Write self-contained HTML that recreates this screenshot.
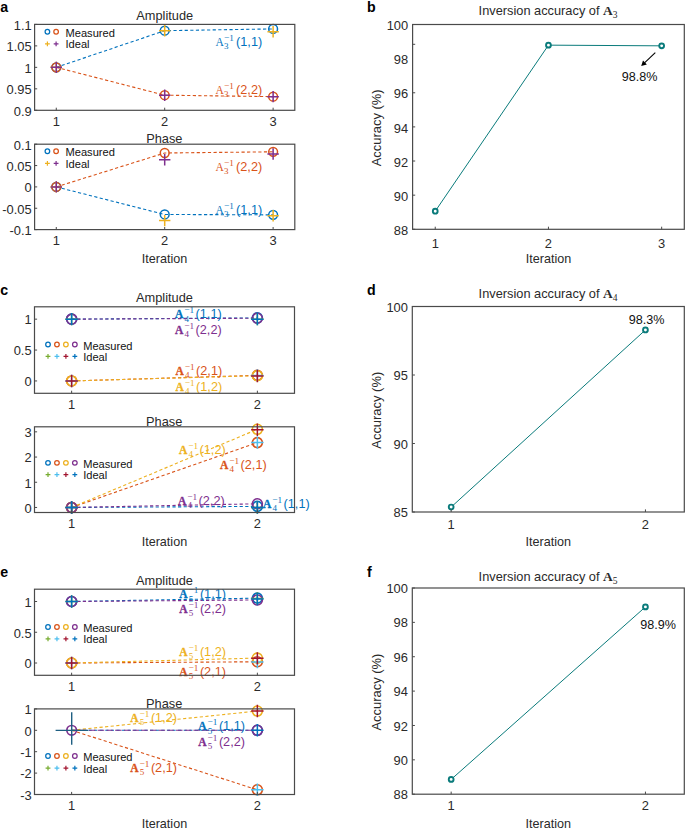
<!DOCTYPE html><html><head><meta charset="utf-8"><style>html,body{margin:0;padding:0;background:#fff;}svg{display:block;}</style></head><body>
<svg width="685" height="832" viewBox="0 0 685 832" font-family='"Liberation Sans", sans-serif'>
<rect width="685" height="832" fill="#fff"/>
<text x="0.20" y="12.30" text-anchor="start" font-size="14.2" fill="#000" font-weight="bold" font-family='"Liberation Sans", sans-serif' >a</text>
<text x="164.70" y="19.60" text-anchor="middle" font-size="12.8" fill="#2a2a2a" font-weight="normal" font-family='"Liberation Sans", sans-serif' >Amplitude</text>
<text x="31.70" y="115.60" text-anchor="end" font-size="12.9" fill="#2a2a2a">0.9</text>
<text x="31.70" y="94.13" text-anchor="end" font-size="12.9" fill="#2a2a2a">0.95</text>
<text x="31.70" y="72.65" text-anchor="end" font-size="12.9" fill="#2a2a2a">1</text>
<text x="31.70" y="51.17" text-anchor="end" font-size="12.9" fill="#2a2a2a">1.05</text>
<text x="31.70" y="29.70" text-anchor="end" font-size="12.9" fill="#2a2a2a">1.1</text>
<text x="56.28" y="126.00" text-anchor="middle" font-size="12.9" fill="#2a2a2a">1</text>
<text x="164.70" y="126.00" text-anchor="middle" font-size="12.9" fill="#2a2a2a">2</text>
<text x="273.12" y="126.00" text-anchor="middle" font-size="12.9" fill="#2a2a2a">3</text>
<polyline points="56.28,67.35 164.70,30.71 273.12,28.91" fill="none" stroke="#0072BD" stroke-width="1.1" stroke-dasharray="3.2 2.4"/>
<polyline points="56.28,67.35 164.70,95.18 273.12,96.64" fill="none" stroke="#D95319" stroke-width="1.1" stroke-dasharray="3.2 2.4"/>
<circle cx="56.28" cy="67.35" r="4.4" fill="none" stroke="#0072BD" stroke-width="1.5"/>
<circle cx="164.70" cy="30.71" r="4.4" fill="none" stroke="#0072BD" stroke-width="1.5"/>
<circle cx="273.12" cy="28.91" r="4.4" fill="none" stroke="#0072BD" stroke-width="1.5"/>
<circle cx="56.28" cy="67.35" r="4.4" fill="none" stroke="#D95319" stroke-width="1.5"/>
<circle cx="164.70" cy="95.18" r="4.4" fill="none" stroke="#D95319" stroke-width="1.5"/>
<circle cx="273.12" cy="96.64" r="4.4" fill="none" stroke="#D95319" stroke-width="1.5"/>
<path d="M50.58 67.35H61.98M56.28 61.65V73.05" stroke="#EDB120" stroke-width="1.5" fill="none"/>
<path d="M159.00 30.71H170.40M164.70 25.01V36.41" stroke="#EDB120" stroke-width="1.5" fill="none"/>
<path d="M267.42 31.70H278.82M273.12 26.00V37.40" stroke="#EDB120" stroke-width="1.5" fill="none"/>
<path d="M50.58 67.35H61.98M56.28 61.65V73.05" stroke="#7E2F8E" stroke-width="1.5" fill="none"/>
<path d="M159.00 95.18H170.40M164.70 89.48V100.88" stroke="#7E2F8E" stroke-width="1.5" fill="none"/>
<path d="M267.42 96.64H278.82M273.12 90.94V102.34" stroke="#7E2F8E" stroke-width="1.5" fill="none"/>
<g fill="#0072BD">
<text x="215.50" y="45.80" font-family='"Liberation Serif", serif' font-size="12.5" font-weight="normal"  transform="translate(215.50,0) scale(0.92,1) translate(-215.50,0)">A</text>
<text x="224.10" y="48.90" font-family='"Liberation Serif", serif' font-size="9.0">3</text>
<text x="224.00" y="40.80" font-family='"Liberation Serif", serif' font-size="9.2">&#8722;1</text>
<text x="236.10" y="45.80" font-size="12.7">(1,1)</text>
</g>
<g fill="#D95319">
<text x="215.50" y="94.20" font-family='"Liberation Serif", serif' font-size="12.5" font-weight="normal"  transform="translate(215.50,0) scale(0.92,1) translate(-215.50,0)">A</text>
<text x="224.10" y="97.30" font-family='"Liberation Serif", serif' font-size="9.0">3</text>
<text x="224.00" y="89.20" font-family='"Liberation Serif", serif' font-size="9.2">&#8722;1</text>
<text x="236.10" y="94.20" font-size="12.7">(2,2)</text>
</g>
<circle cx="47.40" cy="31.70" r="2.3" fill="none" stroke="#0072BD" stroke-width="1.25"/>
<circle cx="56.10" cy="31.70" r="2.3" fill="none" stroke="#D95319" stroke-width="1.25"/>
<path d="M45.00 43.90H49.80M47.40 41.50V46.30" stroke="#EDB120" stroke-width="1.2"/>
<path d="M53.70 43.90H58.50M56.10 41.50V46.30" stroke="#7E2F8E" stroke-width="1.2"/>
<text x="65.50" y="36.70" text-anchor="start" font-size="11.1" fill="#111" font-weight="normal" font-family='"Liberation Sans", sans-serif' >Measured</text>
<text x="65.50" y="48.40" text-anchor="start" font-size="11.1" fill="#111" font-weight="normal" font-family='"Liberation Sans", sans-serif' >Ideal</text>
<text x="164.30" y="142.80" text-anchor="middle" font-size="12.8" fill="#2a2a2a" font-weight="normal" font-family='"Liberation Sans", sans-serif' >Phase</text>
<text x="31.70" y="234.90" text-anchor="end" font-size="12.9" fill="#2a2a2a">-0.1</text>
<text x="31.70" y="213.55" text-anchor="end" font-size="12.9" fill="#2a2a2a">-0.05</text>
<text x="31.70" y="192.20" text-anchor="end" font-size="12.9" fill="#2a2a2a">0</text>
<text x="31.70" y="170.85" text-anchor="end" font-size="12.9" fill="#2a2a2a">0.05</text>
<text x="31.70" y="149.50" text-anchor="end" font-size="12.9" fill="#2a2a2a">0.1</text>
<text x="56.28" y="245.30" text-anchor="middle" font-size="12.9" fill="#2a2a2a">1</text>
<text x="164.70" y="245.30" text-anchor="middle" font-size="12.9" fill="#2a2a2a">2</text>
<text x="273.12" y="245.30" text-anchor="middle" font-size="12.9" fill="#2a2a2a">3</text>
<polyline points="56.28,186.90 164.70,153.00 273.12,151.80" fill="none" stroke="#D95319" stroke-width="1.1" stroke-dasharray="3.2 2.4"/>
<polyline points="56.28,186.90 164.70,214.48 273.12,214.87" fill="none" stroke="#0072BD" stroke-width="1.1" stroke-dasharray="3.2 2.4"/>
<circle cx="56.28" cy="186.90" r="4.4" fill="none" stroke="#0072BD" stroke-width="1.5"/>
<circle cx="164.70" cy="214.48" r="4.4" fill="none" stroke="#0072BD" stroke-width="1.5"/>
<circle cx="273.12" cy="214.87" r="4.4" fill="none" stroke="#0072BD" stroke-width="1.5"/>
<circle cx="56.28" cy="186.90" r="4.4" fill="none" stroke="#D95319" stroke-width="1.5"/>
<circle cx="164.70" cy="153.00" r="4.4" fill="none" stroke="#D95319" stroke-width="1.5"/>
<circle cx="273.12" cy="151.80" r="4.4" fill="none" stroke="#D95319" stroke-width="1.5"/>
<path d="M50.58 186.90H61.98M56.28 181.20V192.60" stroke="#EDB120" stroke-width="1.5" fill="none"/>
<path d="M159.00 220.59H170.40M164.70 214.89V226.29" stroke="#EDB120" stroke-width="1.5" fill="none"/>
<path d="M267.42 215.68H278.82M273.12 209.98V221.38" stroke="#EDB120" stroke-width="1.5" fill="none"/>
<path d="M50.58 186.90H61.98M56.28 181.20V192.60" stroke="#7E2F8E" stroke-width="1.5" fill="none"/>
<path d="M159.00 159.70H170.40M164.70 154.00V165.40" stroke="#7E2F8E" stroke-width="1.5" fill="none"/>
<path d="M267.42 154.02H278.82M273.12 148.32V159.72" stroke="#7E2F8E" stroke-width="1.5" fill="none"/>
<g fill="#D95319">
<text x="215.50" y="171.00" font-family='"Liberation Serif", serif' font-size="12.5" font-weight="normal"  transform="translate(215.50,0) scale(0.92,1) translate(-215.50,0)">A</text>
<text x="224.10" y="174.10" font-family='"Liberation Serif", serif' font-size="9.0">3</text>
<text x="224.00" y="166.00" font-family='"Liberation Serif", serif' font-size="9.2">&#8722;1</text>
<text x="236.10" y="171.00" font-size="12.7">(2,2)</text>
</g>
<g fill="#0072BD">
<text x="215.50" y="213.60" font-family='"Liberation Serif", serif' font-size="12.5" font-weight="normal"  transform="translate(215.50,0) scale(0.92,1) translate(-215.50,0)">A</text>
<text x="224.10" y="216.70" font-family='"Liberation Serif", serif' font-size="9.0">3</text>
<text x="224.00" y="208.60" font-family='"Liberation Serif", serif' font-size="9.2">&#8722;1</text>
<text x="236.10" y="213.60" font-size="12.7">(1,1)</text>
</g>
<circle cx="47.40" cy="151.20" r="2.3" fill="none" stroke="#0072BD" stroke-width="1.25"/>
<circle cx="56.10" cy="151.20" r="2.3" fill="none" stroke="#D95319" stroke-width="1.25"/>
<path d="M45.00 163.40H49.80M47.40 161.00V165.80" stroke="#EDB120" stroke-width="1.2"/>
<path d="M53.70 163.40H58.50M56.10 161.00V165.80" stroke="#7E2F8E" stroke-width="1.2"/>
<text x="65.50" y="156.20" text-anchor="start" font-size="11.1" fill="#111" font-weight="normal" font-family='"Liberation Sans", sans-serif' >Measured</text>
<text x="65.50" y="167.90" text-anchor="start" font-size="11.1" fill="#111" font-weight="normal" font-family='"Liberation Sans", sans-serif' >Ideal</text>
<text x="164.60" y="263.40" text-anchor="middle" font-size="12.6" fill="#2a2a2a" font-weight="normal" font-family='"Liberation Sans", sans-serif' >Iteration</text>
<text x="367.00" y="12.10" text-anchor="start" font-size="14.2" fill="#000" font-weight="bold" font-family='"Liberation Sans", sans-serif' >b</text>
<text x="617.50" y="15.20" text-anchor="end" font-size="12.8" fill="#2a2a2a">Inversion accuracy of <tspan font-family='"Liberation Serif", serif' font-weight="bold" font-size="13.4">A</tspan><tspan font-family='"Liberation Serif", serif' font-size="9.5" dy="3.0">3</tspan></text>
<text x="408.20" y="235.00" text-anchor="end" font-size="12.9" fill="#2a2a2a">88</text>
<text x="408.20" y="200.87" text-anchor="end" font-size="12.9" fill="#2a2a2a">90</text>
<text x="408.20" y="166.73" text-anchor="end" font-size="12.9" fill="#2a2a2a">92</text>
<text x="408.20" y="132.60" text-anchor="end" font-size="12.9" fill="#2a2a2a">94</text>
<text x="408.20" y="98.47" text-anchor="end" font-size="12.9" fill="#2a2a2a">96</text>
<text x="408.20" y="64.33" text-anchor="end" font-size="12.9" fill="#2a2a2a">98</text>
<text x="408.20" y="30.20" text-anchor="end" font-size="12.9" fill="#2a2a2a">100</text>
<text x="435.24" y="247.90" text-anchor="middle" font-size="12.9" fill="#2a2a2a">1</text>
<text x="548.45" y="247.90" text-anchor="middle" font-size="12.9" fill="#2a2a2a">2</text>
<text x="661.66" y="247.90" text-anchor="middle" font-size="12.9" fill="#2a2a2a">3</text>
<polyline points="435.24,211.21 548.45,45.15 661.66,45.83" fill="none" stroke="#0A7B7B" stroke-width="1.0"/>
<circle cx="435.24" cy="211.21" r="2.4" fill="#fff" stroke="#0A7B7B" stroke-width="1.9"/>
<circle cx="548.45" cy="45.15" r="2.4" fill="#fff" stroke="#0A7B7B" stroke-width="1.9"/>
<circle cx="661.66" cy="45.83" r="2.4" fill="#fff" stroke="#0A7B7B" stroke-width="1.9"/>
<text x="0" y="0" text-anchor="middle" font-size="12.95" fill="#2a2a2a" transform="translate(381.20,127.90) rotate(-90)">Accuracy (%)</text>
<text x="548.45" y="263.10" text-anchor="middle" font-size="12.6" fill="#2a2a2a" font-weight="normal" font-family='"Liberation Sans", sans-serif' >Iteration</text>
<line x1="655.3" y1="52.7" x2="644.5" y2="62.9" stroke="#000" stroke-width="1.1"/>
<path d="M641.2 66.0 L643.0 60.6 L646.9 64.6 Z" fill="#000"/>
<text x="639.50" y="81.00" text-anchor="middle" font-size="12.6" fill="#111" font-weight="normal" font-family='"Liberation Sans", sans-serif' >98.8%</text>
<text x="0.30" y="294.60" text-anchor="start" font-size="14.2" fill="#000" font-weight="bold" font-family='"Liberation Sans", sans-serif' >c</text>
<text x="164.50" y="301.80" text-anchor="middle" font-size="12.8" fill="#2a2a2a" font-weight="normal" font-family='"Liberation Sans", sans-serif' >Amplitude</text>
<text x="31.60" y="386.24" text-anchor="end" font-size="12.9" fill="#2a2a2a">0</text>
<text x="31.60" y="355.35" text-anchor="end" font-size="12.9" fill="#2a2a2a">0.5</text>
<text x="31.60" y="324.46" text-anchor="end" font-size="12.9" fill="#2a2a2a">1</text>
<text x="71.64" y="409.00" text-anchor="middle" font-size="12.9" fill="#2a2a2a">1</text>
<text x="257.36" y="409.00" text-anchor="middle" font-size="12.9" fill="#2a2a2a">2</text>
<polyline points="71.64,319.16 257.36,317.92" fill="none" stroke="#0072BD" stroke-width="1.1" stroke-dasharray="3.2 2.4"/>
<circle cx="71.64" cy="319.16" r="5.0" fill="none" stroke="#0072BD" stroke-width="1.6"/>
<circle cx="257.36" cy="317.92" r="5.0" fill="none" stroke="#0072BD" stroke-width="1.6"/>
<polyline points="71.64,380.94 257.36,375.38" fill="none" stroke="#D95319" stroke-width="1.1" stroke-dasharray="3.2 2.4"/>
<circle cx="71.64" cy="380.94" r="5.0" fill="none" stroke="#D95319" stroke-width="1.6"/>
<circle cx="257.36" cy="375.38" r="5.0" fill="none" stroke="#D95319" stroke-width="1.6"/>
<polyline points="71.64,380.94 257.36,375.69" fill="none" stroke="#EDB120" stroke-width="1.1" stroke-dasharray="3.2 2.4"/>
<circle cx="71.64" cy="380.94" r="5.0" fill="none" stroke="#EDB120" stroke-width="1.6"/>
<circle cx="257.36" cy="375.69" r="5.0" fill="none" stroke="#EDB120" stroke-width="1.6"/>
<polyline points="71.64,319.16 257.36,318.23" fill="none" stroke="#7E2F8E" stroke-width="1.1" stroke-dasharray="3.2 2.4"/>
<circle cx="71.64" cy="319.16" r="5.0" fill="none" stroke="#7E2F8E" stroke-width="1.6"/>
<circle cx="257.36" cy="318.23" r="5.0" fill="none" stroke="#7E2F8E" stroke-width="1.6"/>
<path d="M65.44 319.16H77.84M71.64 312.96V325.36" stroke="#77AC30" stroke-width="1.5" fill="none"/>
<path d="M251.16 319.16H263.56M257.36 312.96V325.36" stroke="#77AC30" stroke-width="1.5" fill="none"/>
<path d="M65.44 380.94H77.84M71.64 374.74V387.14" stroke="#4DBEEE" stroke-width="1.5" fill="none"/>
<path d="M251.16 375.38H263.56M257.36 369.18V381.58" stroke="#4DBEEE" stroke-width="1.5" fill="none"/>
<path d="M65.44 380.94H77.84M71.64 374.74V387.14" stroke="#A2142F" stroke-width="1.5" fill="none"/>
<path d="M251.16 376.00H263.56M257.36 369.80V382.20" stroke="#A2142F" stroke-width="1.5" fill="none"/>
<path d="M65.44 319.16H77.84M71.64 312.96V325.36" stroke="#0072BD" stroke-width="1.5" fill="none"/>
<path d="M251.16 319.16H263.56M257.36 312.96V325.36" stroke="#0072BD" stroke-width="1.5" fill="none"/>
<g fill="#0072BD">
<text x="175.00" y="318.40" font-family='"Liberation Serif", serif' font-size="11.5" font-weight="bold" stroke="#0072BD" stroke-width="0.3" transform="translate(175.00,0) scale(1.0,1) translate(-175.00,0)">A</text>
<text x="184.40" y="321.50" font-family='"Liberation Serif", serif' font-size="9.0">4</text>
<text x="184.30" y="313.40" font-family='"Liberation Serif", serif' font-size="9.2">&#8722;1</text>
<text x="195.60" y="318.40" font-size="12.7">(1,1)</text>
</g>
<g fill="#7E2F8E">
<text x="175.00" y="334.00" font-family='"Liberation Serif", serif' font-size="11.5" font-weight="bold" stroke="#7E2F8E" stroke-width="0.3" transform="translate(175.00,0) scale(1.0,1) translate(-175.00,0)">A</text>
<text x="184.40" y="337.10" font-family='"Liberation Serif", serif' font-size="9.0">4</text>
<text x="184.30" y="329.00" font-family='"Liberation Serif", serif' font-size="9.2">&#8722;1</text>
<text x="195.60" y="334.00" font-size="12.7">(2,2)</text>
</g>
<g fill="#D95319">
<text x="175.50" y="374.60" font-family='"Liberation Serif", serif' font-size="11.5" font-weight="bold" stroke="#D95319" stroke-width="0.3" transform="translate(175.50,0) scale(1.0,1) translate(-175.50,0)">A</text>
<text x="184.90" y="377.70" font-family='"Liberation Serif", serif' font-size="9.0">4</text>
<text x="184.80" y="369.60" font-family='"Liberation Serif", serif' font-size="9.2">&#8722;1</text>
<text x="196.10" y="374.60" font-size="12.7">(2,1)</text>
</g>
<g fill="#EDB120">
<text x="175.50" y="390.60" font-family='"Liberation Serif", serif' font-size="11.5" font-weight="bold" stroke="#EDB120" stroke-width="0.3" transform="translate(175.50,0) scale(1.0,1) translate(-175.50,0)">A</text>
<text x="184.90" y="393.70" font-family='"Liberation Serif", serif' font-size="9.0">4</text>
<text x="184.80" y="385.60" font-family='"Liberation Serif", serif' font-size="9.2">&#8722;1</text>
<text x="196.10" y="390.60" font-size="12.7">(1,2)</text>
</g>
<circle cx="48.00" cy="344.50" r="2.3" fill="none" stroke="#0072BD" stroke-width="1.25"/>
<circle cx="56.95" cy="344.50" r="2.3" fill="none" stroke="#D95319" stroke-width="1.25"/>
<circle cx="65.90" cy="344.50" r="2.3" fill="none" stroke="#EDB120" stroke-width="1.25"/>
<circle cx="74.85" cy="344.50" r="2.3" fill="none" stroke="#7E2F8E" stroke-width="1.25"/>
<path d="M45.60 356.40H50.40M48.00 354.00V358.80" stroke="#77AC30" stroke-width="1.2"/>
<path d="M54.55 356.40H59.35M56.95 354.00V358.80" stroke="#4DBEEE" stroke-width="1.2"/>
<path d="M63.50 356.40H68.30M65.90 354.00V358.80" stroke="#A2142F" stroke-width="1.2"/>
<path d="M72.45 356.40H77.25M74.85 354.00V358.80" stroke="#0072BD" stroke-width="1.2"/>
<text x="83.20" y="349.50" text-anchor="start" font-size="11.1" fill="#111" font-weight="normal" font-family='"Liberation Sans", sans-serif' >Measured</text>
<text x="83.20" y="360.90" text-anchor="start" font-size="11.1" fill="#111" font-weight="normal" font-family='"Liberation Sans", sans-serif' >Ideal</text>
<text x="164.20" y="425.50" text-anchor="middle" font-size="12.8" fill="#2a2a2a" font-weight="normal" font-family='"Liberation Sans", sans-serif' >Phase</text>
<text x="31.60" y="512.76" text-anchor="end" font-size="12.9" fill="#2a2a2a">0</text>
<text x="31.60" y="487.55" text-anchor="end" font-size="12.9" fill="#2a2a2a">1</text>
<text x="31.60" y="462.35" text-anchor="end" font-size="12.9" fill="#2a2a2a">2</text>
<text x="31.60" y="437.14" text-anchor="end" font-size="12.9" fill="#2a2a2a">3</text>
<text x="71.64" y="528.00" text-anchor="middle" font-size="12.9" fill="#2a2a2a">1</text>
<text x="257.36" y="528.00" text-anchor="middle" font-size="12.9" fill="#2a2a2a">2</text>
<polyline points="71.64,507.46 257.36,506.40" fill="none" stroke="#0072BD" stroke-width="1.1" stroke-dasharray="3.2 2.4"/>
<circle cx="71.64" cy="507.46" r="5.0" fill="none" stroke="#0072BD" stroke-width="1.6"/>
<circle cx="257.36" cy="506.40" r="5.0" fill="none" stroke="#0072BD" stroke-width="1.6"/>
<polyline points="71.64,507.46 257.36,442.60" fill="none" stroke="#D95319" stroke-width="1.1" stroke-dasharray="3.2 2.4"/>
<circle cx="71.64" cy="507.46" r="5.0" fill="none" stroke="#D95319" stroke-width="1.6"/>
<circle cx="257.36" cy="442.60" r="5.0" fill="none" stroke="#D95319" stroke-width="1.6"/>
<polyline points="71.64,507.46 257.36,429.32" fill="none" stroke="#EDB120" stroke-width="1.1" stroke-dasharray="3.2 2.4"/>
<circle cx="71.64" cy="507.46" r="5.0" fill="none" stroke="#EDB120" stroke-width="1.6"/>
<circle cx="257.36" cy="429.32" r="5.0" fill="none" stroke="#EDB120" stroke-width="1.6"/>
<polyline points="71.64,507.46 257.36,503.80" fill="none" stroke="#7E2F8E" stroke-width="1.1" stroke-dasharray="3.2 2.4"/>
<circle cx="71.64" cy="507.46" r="5.0" fill="none" stroke="#7E2F8E" stroke-width="1.6"/>
<circle cx="257.36" cy="503.80" r="5.0" fill="none" stroke="#7E2F8E" stroke-width="1.6"/>
<path d="M65.44 507.46H77.84M71.64 501.26V513.66" stroke="#77AC30" stroke-width="1.5" fill="none"/>
<path d="M251.16 507.46H263.56M257.36 501.26V513.66" stroke="#77AC30" stroke-width="1.5" fill="none"/>
<path d="M65.44 507.46H77.84M71.64 501.26V513.66" stroke="#4DBEEE" stroke-width="1.5" fill="none"/>
<path d="M251.16 442.60H263.56M257.36 436.40V448.80" stroke="#4DBEEE" stroke-width="1.5" fill="none"/>
<path d="M65.44 507.46H77.84M71.64 501.26V513.66" stroke="#A2142F" stroke-width="1.5" fill="none"/>
<path d="M251.16 429.82H263.56M257.36 423.62V436.02" stroke="#A2142F" stroke-width="1.5" fill="none"/>
<path d="M65.44 507.46H77.84M71.64 501.26V513.66" stroke="#0072BD" stroke-width="1.5" fill="none"/>
<path d="M251.16 507.46H263.56M257.36 501.26V513.66" stroke="#0072BD" stroke-width="1.5" fill="none"/>
<g fill="#EDB120">
<text x="179.00" y="453.90" font-family='"Liberation Serif", serif' font-size="11.5" font-weight="bold" stroke="#EDB120" stroke-width="0.3" transform="translate(179.00,0) scale(1.0,1) translate(-179.00,0)">A</text>
<text x="188.40" y="457.00" font-family='"Liberation Serif", serif' font-size="9.0">4</text>
<text x="188.30" y="448.90" font-family='"Liberation Serif", serif' font-size="9.2">&#8722;1</text>
<text x="199.60" y="453.90" font-size="12.7">(1,2)</text>
</g>
<g fill="#D95319">
<text x="220.00" y="468.80" font-family='"Liberation Serif", serif' font-size="11.5" font-weight="bold" stroke="#D95319" stroke-width="0.3" transform="translate(220.00,0) scale(1.0,1) translate(-220.00,0)">A</text>
<text x="229.40" y="471.90" font-family='"Liberation Serif", serif' font-size="9.0">4</text>
<text x="229.30" y="463.80" font-family='"Liberation Serif", serif' font-size="9.2">&#8722;1</text>
<text x="240.60" y="468.80" font-size="12.7">(2,1)</text>
</g>
<g fill="#7E2F8E">
<text x="178.00" y="504.60" font-family='"Liberation Serif", serif' font-size="11.5" font-weight="bold" stroke="#7E2F8E" stroke-width="0.3" transform="translate(178.00,0) scale(1.0,1) translate(-178.00,0)">A</text>
<text x="187.40" y="507.70" font-family='"Liberation Serif", serif' font-size="9.0">4</text>
<text x="187.30" y="499.60" font-family='"Liberation Serif", serif' font-size="9.2">&#8722;1</text>
<text x="198.60" y="504.60" font-size="12.7">(2,2)</text>
</g>
<g fill="#0072BD">
<text x="263.00" y="507.70" font-family='"Liberation Serif", serif' font-size="11.5" font-weight="bold" stroke="#0072BD" stroke-width="0.3" transform="translate(263.00,0) scale(1.0,1) translate(-263.00,0)">A</text>
<text x="272.40" y="510.80" font-family='"Liberation Serif", serif' font-size="9.0">4</text>
<text x="272.30" y="502.70" font-family='"Liberation Serif", serif' font-size="9.2">&#8722;1</text>
<text x="283.60" y="507.70" font-size="12.7">(1,1)</text>
</g>
<circle cx="48.00" cy="462.80" r="2.3" fill="none" stroke="#0072BD" stroke-width="1.25"/>
<circle cx="56.95" cy="462.80" r="2.3" fill="none" stroke="#D95319" stroke-width="1.25"/>
<circle cx="65.90" cy="462.80" r="2.3" fill="none" stroke="#EDB120" stroke-width="1.25"/>
<circle cx="74.85" cy="462.80" r="2.3" fill="none" stroke="#7E2F8E" stroke-width="1.25"/>
<path d="M45.60 474.70H50.40M48.00 472.30V477.10" stroke="#77AC30" stroke-width="1.2"/>
<path d="M54.55 474.70H59.35M56.95 472.30V477.10" stroke="#4DBEEE" stroke-width="1.2"/>
<path d="M63.50 474.70H68.30M65.90 472.30V477.10" stroke="#A2142F" stroke-width="1.2"/>
<path d="M72.45 474.70H77.25M74.85 472.30V477.10" stroke="#0072BD" stroke-width="1.2"/>
<text x="83.20" y="467.80" text-anchor="start" font-size="11.1" fill="#111" font-weight="normal" font-family='"Liberation Sans", sans-serif' >Measured</text>
<text x="83.20" y="479.20" text-anchor="start" font-size="11.1" fill="#111" font-weight="normal" font-family='"Liberation Sans", sans-serif' >Ideal</text>
<text x="164.40" y="545.50" text-anchor="middle" font-size="12.6" fill="#2a2a2a" font-weight="normal" font-family='"Liberation Sans", sans-serif' >Iteration</text>
<text x="367.00" y="294.60" text-anchor="start" font-size="14.2" fill="#000" font-weight="bold" font-family='"Liberation Sans", sans-serif' >d</text>
<text x="617.50" y="298.20" text-anchor="end" font-size="12.8" fill="#2a2a2a">Inversion accuracy of <tspan font-family='"Liberation Serif", serif' font-weight="bold" font-size="13.4">A</tspan><tspan font-family='"Liberation Serif", serif' font-size="9.5" dy="3.0">4</tspan></text>
<text x="407.90" y="517.20" text-anchor="end" font-size="12.9" fill="#2a2a2a">85</text>
<text x="407.90" y="448.70" text-anchor="end" font-size="12.9" fill="#2a2a2a">90</text>
<text x="407.90" y="380.20" text-anchor="end" font-size="12.9" fill="#2a2a2a">95</text>
<text x="407.90" y="311.70" text-anchor="end" font-size="12.9" fill="#2a2a2a">100</text>
<text x="451.16" y="528.60" text-anchor="middle" font-size="12.9" fill="#2a2a2a">1</text>
<text x="645.44" y="528.60" text-anchor="middle" font-size="12.9" fill="#2a2a2a">2</text>
<polyline points="451.16,507.07 645.44,329.93" fill="none" stroke="#0A7B7B" stroke-width="1.0"/>
<circle cx="451.16" cy="507.07" r="2.4" fill="#fff" stroke="#0A7B7B" stroke-width="1.9"/>
<circle cx="645.44" cy="329.93" r="2.4" fill="#fff" stroke="#0A7B7B" stroke-width="1.9"/>
<text x="0" y="0" text-anchor="middle" font-size="12.95" fill="#2a2a2a" transform="translate(380.90,410.25) rotate(-90)">Accuracy (%)</text>
<text x="548.30" y="545.80" text-anchor="middle" font-size="12.6" fill="#2a2a2a" font-weight="normal" font-family='"Liberation Sans", sans-serif' >Iteration</text>
<text x="646.50" y="323.80" text-anchor="middle" font-size="12.6" fill="#111" font-weight="normal" font-family='"Liberation Sans", sans-serif' >98.3%</text>
<text x="0.20" y="577.40" text-anchor="start" font-size="14.2" fill="#000" font-weight="bold" font-family='"Liberation Sans", sans-serif' >e</text>
<text x="164.50" y="585.00" text-anchor="middle" font-size="12.8" fill="#2a2a2a" font-weight="normal" font-family='"Liberation Sans", sans-serif' >Amplitude</text>
<text x="31.60" y="668.30" text-anchor="end" font-size="12.9" fill="#2a2a2a">0</text>
<text x="31.60" y="637.55" text-anchor="end" font-size="12.9" fill="#2a2a2a">0.5</text>
<text x="31.60" y="606.80" text-anchor="end" font-size="12.9" fill="#2a2a2a">1</text>
<text x="71.64" y="691.00" text-anchor="middle" font-size="12.9" fill="#2a2a2a">1</text>
<text x="257.36" y="691.00" text-anchor="middle" font-size="12.9" fill="#2a2a2a">2</text>
<polyline points="71.64,601.50 257.36,598.12" fill="none" stroke="#0072BD" stroke-width="1.1" stroke-dasharray="3.2 2.4"/>
<circle cx="71.64" cy="601.50" r="5.0" fill="none" stroke="#0072BD" stroke-width="1.6"/>
<circle cx="257.36" cy="598.12" r="5.0" fill="none" stroke="#0072BD" stroke-width="1.6"/>
<polyline points="71.64,663.00 257.36,661.77" fill="none" stroke="#D95319" stroke-width="1.1" stroke-dasharray="3.2 2.4"/>
<circle cx="71.64" cy="663.00" r="5.0" fill="none" stroke="#D95319" stroke-width="1.6"/>
<circle cx="257.36" cy="661.77" r="5.0" fill="none" stroke="#D95319" stroke-width="1.6"/>
<polyline points="71.64,663.00 257.36,658.08" fill="none" stroke="#EDB120" stroke-width="1.1" stroke-dasharray="3.2 2.4"/>
<circle cx="71.64" cy="663.00" r="5.0" fill="none" stroke="#EDB120" stroke-width="1.6"/>
<circle cx="257.36" cy="658.08" r="5.0" fill="none" stroke="#EDB120" stroke-width="1.6"/>
<polyline points="71.64,601.50 257.36,599.96" fill="none" stroke="#7E2F8E" stroke-width="1.1" stroke-dasharray="3.2 2.4"/>
<circle cx="71.64" cy="601.50" r="5.0" fill="none" stroke="#7E2F8E" stroke-width="1.6"/>
<circle cx="257.36" cy="599.96" r="5.0" fill="none" stroke="#7E2F8E" stroke-width="1.6"/>
<path d="M65.44 601.50H77.84M71.64 595.30V607.70" stroke="#77AC30" stroke-width="1.5" fill="none"/>
<path d="M251.16 598.43H263.56M257.36 592.23V604.63" stroke="#77AC30" stroke-width="1.5" fill="none"/>
<path d="M65.44 663.00H77.84M71.64 656.80V669.20" stroke="#4DBEEE" stroke-width="1.5" fill="none"/>
<path d="M251.16 662.02H263.56M257.36 655.82V668.22" stroke="#4DBEEE" stroke-width="1.5" fill="none"/>
<path d="M65.44 663.00H77.84M71.64 656.80V669.20" stroke="#A2142F" stroke-width="1.5" fill="none"/>
<path d="M251.16 658.33H263.56M257.36 652.13V664.53" stroke="#A2142F" stroke-width="1.5" fill="none"/>
<path d="M65.44 601.50H77.84M71.64 595.30V607.70" stroke="#0072BD" stroke-width="1.5" fill="none"/>
<path d="M251.16 599.04H263.56M257.36 592.84V605.24" stroke="#0072BD" stroke-width="1.5" fill="none"/>
<g fill="#0072BD">
<text x="179.30" y="598.40" font-family='"Liberation Serif", serif' font-size="11.5" font-weight="bold" stroke="#0072BD" stroke-width="0.3" transform="translate(179.30,0) scale(1.0,1) translate(-179.30,0)">A</text>
<text x="188.70" y="601.50" font-family='"Liberation Serif", serif' font-size="9.0">5</text>
<text x="188.60" y="593.40" font-family='"Liberation Serif", serif' font-size="9.2">&#8722;1</text>
<text x="199.90" y="598.40" font-size="12.7">(1,1)</text>
</g>
<g fill="#7E2F8E">
<text x="179.30" y="613.30" font-family='"Liberation Serif", serif' font-size="11.5" font-weight="bold" stroke="#7E2F8E" stroke-width="0.3" transform="translate(179.30,0) scale(1.0,1) translate(-179.30,0)">A</text>
<text x="188.70" y="616.40" font-family='"Liberation Serif", serif' font-size="9.0">5</text>
<text x="188.60" y="608.30" font-family='"Liberation Serif", serif' font-size="9.2">&#8722;1</text>
<text x="199.90" y="613.30" font-size="12.7">(2,2)</text>
</g>
<g fill="#EDB120">
<text x="179.30" y="656.20" font-family='"Liberation Serif", serif' font-size="11.5" font-weight="bold" stroke="#EDB120" stroke-width="0.3" transform="translate(179.30,0) scale(1.0,1) translate(-179.30,0)">A</text>
<text x="188.70" y="659.30" font-family='"Liberation Serif", serif' font-size="9.0">5</text>
<text x="188.60" y="651.20" font-family='"Liberation Serif", serif' font-size="9.2">&#8722;1</text>
<text x="199.90" y="656.20" font-size="12.7">(1,2)</text>
</g>
<g fill="#D95319">
<text x="179.30" y="675.90" font-family='"Liberation Serif", serif' font-size="11.5" font-weight="bold" stroke="#D95319" stroke-width="0.3" transform="translate(179.30,0) scale(1.0,1) translate(-179.30,0)">A</text>
<text x="188.70" y="679.00" font-family='"Liberation Serif", serif' font-size="9.0">5</text>
<text x="188.60" y="670.90" font-family='"Liberation Serif", serif' font-size="9.2">&#8722;1</text>
<text x="199.90" y="675.90" font-size="12.7">(2,1)</text>
</g>
<circle cx="48.00" cy="627.00" r="2.3" fill="none" stroke="#0072BD" stroke-width="1.25"/>
<circle cx="56.95" cy="627.00" r="2.3" fill="none" stroke="#D95319" stroke-width="1.25"/>
<circle cx="65.90" cy="627.00" r="2.3" fill="none" stroke="#EDB120" stroke-width="1.25"/>
<circle cx="74.85" cy="627.00" r="2.3" fill="none" stroke="#7E2F8E" stroke-width="1.25"/>
<path d="M45.60 638.90H50.40M48.00 636.50V641.30" stroke="#77AC30" stroke-width="1.2"/>
<path d="M54.55 638.90H59.35M56.95 636.50V641.30" stroke="#4DBEEE" stroke-width="1.2"/>
<path d="M63.50 638.90H68.30M65.90 636.50V641.30" stroke="#A2142F" stroke-width="1.2"/>
<path d="M72.45 638.90H77.25M74.85 636.50V641.30" stroke="#0072BD" stroke-width="1.2"/>
<text x="83.20" y="632.00" text-anchor="start" font-size="11.1" fill="#111" font-weight="normal" font-family='"Liberation Sans", sans-serif' >Measured</text>
<text x="83.20" y="643.40" text-anchor="start" font-size="11.1" fill="#111" font-weight="normal" font-family='"Liberation Sans", sans-serif' >Ideal</text>
<text x="164.20" y="707.60" text-anchor="middle" font-size="12.8" fill="#2a2a2a" font-weight="normal" font-family='"Liberation Sans", sans-serif' >Phase</text>
<text x="31.60" y="799.80" text-anchor="end" font-size="12.9" fill="#2a2a2a">-3</text>
<text x="31.60" y="778.40" text-anchor="end" font-size="12.9" fill="#2a2a2a">-2</text>
<text x="31.60" y="757.00" text-anchor="end" font-size="12.9" fill="#2a2a2a">-1</text>
<text x="31.60" y="735.60" text-anchor="end" font-size="12.9" fill="#2a2a2a">0</text>
<text x="31.60" y="714.20" text-anchor="end" font-size="12.9" fill="#2a2a2a">1</text>
<text x="71.64" y="810.20" text-anchor="middle" font-size="12.9" fill="#2a2a2a">1</text>
<text x="257.36" y="810.20" text-anchor="middle" font-size="12.9" fill="#2a2a2a">2</text>
<polyline points="71.64,730.30 257.36,730.30" fill="none" stroke="#0072BD" stroke-width="1.1" stroke-dasharray="3.2 2.4"/>
<circle cx="257.36" cy="730.30" r="5.0" fill="none" stroke="#0072BD" stroke-width="1.6"/>
<polyline points="71.64,730.30 257.36,789.79" fill="none" stroke="#D95319" stroke-width="1.1" stroke-dasharray="3.2 2.4"/>
<circle cx="257.36" cy="789.79" r="5.0" fill="none" stroke="#D95319" stroke-width="1.6"/>
<polyline points="71.64,730.30 257.36,711.04" fill="none" stroke="#EDB120" stroke-width="1.1" stroke-dasharray="3.2 2.4"/>
<circle cx="257.36" cy="711.04" r="5.0" fill="none" stroke="#EDB120" stroke-width="1.6"/>
<polyline points="71.64,730.30 257.36,730.30" fill="none" stroke="#7E2F8E" stroke-width="1.1" stroke-dasharray="6.5 2.2"/>
<circle cx="257.36" cy="730.30" r="5.0" fill="none" stroke="#7E2F8E" stroke-width="1.6"/>
<path d="M251.16 789.79H263.56M257.36 783.59V795.99" stroke="#4DBEEE" stroke-width="1.5" fill="none"/>
<path d="M251.16 711.04H263.56M257.36 704.84V717.24" stroke="#A2142F" stroke-width="1.5" fill="none"/>
<path d="M251.16 730.30H263.56M257.36 724.10V736.50" stroke="#0072BD" stroke-width="1.5" fill="none"/>
<circle cx="71.64" cy="730.30" r="4.8" fill="none" stroke="#7E2F8E" stroke-width="1.7"/>
<path d="M55.6 730.4H88.2M71.7 712.3V744.7" stroke="#1f5f82" stroke-width="1.4" fill="none"/>
<g fill="#0072BD">
<text x="198.30" y="730.40" font-family='"Liberation Serif", serif' font-size="11.5" font-weight="bold" stroke="#0072BD" stroke-width="0.3" transform="translate(198.30,0) scale(1.0,1) translate(-198.30,0)">A</text>
<text x="207.70" y="733.50" font-family='"Liberation Serif", serif' font-size="9.0">5</text>
<text x="207.60" y="725.40" font-family='"Liberation Serif", serif' font-size="9.2">&#8722;1</text>
<text x="218.90" y="730.40" font-size="12.7">(1,1)</text>
</g>
<g fill="#7E2F8E">
<text x="198.30" y="745.70" font-family='"Liberation Serif", serif' font-size="11.5" font-weight="bold" stroke="#7E2F8E" stroke-width="0.3" transform="translate(198.30,0) scale(1.0,1) translate(-198.30,0)">A</text>
<text x="207.70" y="748.80" font-family='"Liberation Serif", serif' font-size="9.0">5</text>
<text x="207.60" y="740.70" font-family='"Liberation Serif", serif' font-size="9.2">&#8722;1</text>
<text x="218.90" y="745.70" font-size="12.7">(2,2)</text>
</g>
<g fill="#EDB120">
<text x="130.30" y="722.00" font-family='"Liberation Serif", serif' font-size="11.5" font-weight="bold" stroke="#EDB120" stroke-width="0.3" transform="translate(130.30,0) scale(1.0,1) translate(-130.30,0)">A</text>
<text x="139.70" y="725.10" font-family='"Liberation Serif", serif' font-size="9.0">5</text>
<text x="139.60" y="717.00" font-family='"Liberation Serif", serif' font-size="9.2">&#8722;1</text>
<text x="150.90" y="722.00" font-size="12.7">(1,2)</text>
</g>
<g fill="#D95319">
<text x="130.30" y="772.00" font-family='"Liberation Serif", serif' font-size="11.5" font-weight="bold" stroke="#D95319" stroke-width="0.3" transform="translate(130.30,0) scale(1.0,1) translate(-130.30,0)">A</text>
<text x="139.70" y="775.10" font-family='"Liberation Serif", serif' font-size="9.0">5</text>
<text x="139.60" y="767.00" font-family='"Liberation Serif", serif' font-size="9.2">&#8722;1</text>
<text x="150.90" y="772.00" font-size="12.7">(2,1)</text>
</g>
<circle cx="48.00" cy="756.00" r="2.3" fill="none" stroke="#0072BD" stroke-width="1.25"/>
<circle cx="56.95" cy="756.00" r="2.3" fill="none" stroke="#D95319" stroke-width="1.25"/>
<circle cx="65.90" cy="756.00" r="2.3" fill="none" stroke="#EDB120" stroke-width="1.25"/>
<circle cx="74.85" cy="756.00" r="2.3" fill="none" stroke="#7E2F8E" stroke-width="1.25"/>
<path d="M45.60 768.10H50.40M48.00 765.70V770.50" stroke="#77AC30" stroke-width="1.2"/>
<path d="M54.55 768.10H59.35M56.95 765.70V770.50" stroke="#4DBEEE" stroke-width="1.2"/>
<path d="M63.50 768.10H68.30M65.90 765.70V770.50" stroke="#A2142F" stroke-width="1.2"/>
<path d="M72.45 768.10H77.25M74.85 765.70V770.50" stroke="#0072BD" stroke-width="1.2"/>
<text x="83.20" y="761.00" text-anchor="start" font-size="11.1" fill="#111" font-weight="normal" font-family='"Liberation Sans", sans-serif' >Measured</text>
<text x="83.20" y="772.60" text-anchor="start" font-size="11.1" fill="#111" font-weight="normal" font-family='"Liberation Sans", sans-serif' >Ideal</text>
<text x="164.40" y="827.80" text-anchor="middle" font-size="12.6" fill="#2a2a2a" font-weight="normal" font-family='"Liberation Sans", sans-serif' >Iteration</text>
<text x="367.00" y="576.80" text-anchor="start" font-size="14.2" fill="#000" font-weight="bold" font-family='"Liberation Sans", sans-serif' >f</text>
<text x="617.50" y="580.70" text-anchor="end" font-size="12.8" fill="#2a2a2a">Inversion accuracy of <tspan font-family='"Liberation Serif", serif' font-weight="bold" font-size="13.4">A</tspan><tspan font-family='"Liberation Serif", serif' font-size="9.5" dy="3.0">5</tspan></text>
<text x="407.90" y="799.30" text-anchor="end" font-size="12.9" fill="#2a2a2a">88</text>
<text x="407.90" y="764.93" text-anchor="end" font-size="12.9" fill="#2a2a2a">90</text>
<text x="407.90" y="730.57" text-anchor="end" font-size="12.9" fill="#2a2a2a">92</text>
<text x="407.90" y="696.20" text-anchor="end" font-size="12.9" fill="#2a2a2a">94</text>
<text x="407.90" y="661.83" text-anchor="end" font-size="12.9" fill="#2a2a2a">96</text>
<text x="407.90" y="627.47" text-anchor="end" font-size="12.9" fill="#2a2a2a">98</text>
<text x="407.90" y="593.10" text-anchor="end" font-size="12.9" fill="#2a2a2a">100</text>
<text x="451.16" y="810.40" text-anchor="middle" font-size="12.9" fill="#2a2a2a">1</text>
<text x="645.44" y="810.40" text-anchor="middle" font-size="12.9" fill="#2a2a2a">2</text>
<polyline points="451.16,779.42 645.44,606.90" fill="none" stroke="#0A7B7B" stroke-width="1.0"/>
<circle cx="451.16" cy="779.42" r="2.4" fill="#fff" stroke="#0A7B7B" stroke-width="1.9"/>
<circle cx="645.44" cy="606.90" r="2.4" fill="#fff" stroke="#0A7B7B" stroke-width="1.9"/>
<text x="0" y="0" text-anchor="middle" font-size="12.95" fill="#2a2a2a" transform="translate(380.90,692.10) rotate(-90)">Accuracy (%)</text>
<text x="548.30" y="828.00" text-anchor="middle" font-size="12.6" fill="#2a2a2a" font-weight="normal" font-family='"Liberation Sans", sans-serif' >Iteration</text>
<text x="658.00" y="629.00" text-anchor="middle" font-size="12.6" fill="#111" font-weight="normal" font-family='"Liberation Sans", sans-serif' >98.9%</text>
<rect x="34.60" y="24.40" width="260.20" height="85.90" fill="none" stroke="#4a4a4a" stroke-width="1.2"/>
<line x1="34.60" y1="110.30" x2="37.20" y2="110.30" stroke="#4a4a4a" stroke-width="1"/>
<line x1="34.60" y1="88.83" x2="37.20" y2="88.83" stroke="#4a4a4a" stroke-width="1"/>
<line x1="34.60" y1="67.35" x2="37.20" y2="67.35" stroke="#4a4a4a" stroke-width="1"/>
<line x1="34.60" y1="45.88" x2="37.20" y2="45.88" stroke="#4a4a4a" stroke-width="1"/>
<line x1="34.60" y1="24.40" x2="37.20" y2="24.40" stroke="#4a4a4a" stroke-width="1"/>
<line x1="56.28" y1="110.30" x2="56.28" y2="107.70" stroke="#4a4a4a" stroke-width="1"/>
<line x1="164.70" y1="110.30" x2="164.70" y2="107.70" stroke="#4a4a4a" stroke-width="1"/>
<line x1="273.12" y1="110.30" x2="273.12" y2="107.70" stroke="#4a4a4a" stroke-width="1"/>
<rect x="34.60" y="144.20" width="260.20" height="85.40" fill="none" stroke="#4a4a4a" stroke-width="1.2"/>
<line x1="34.60" y1="229.60" x2="37.20" y2="229.60" stroke="#4a4a4a" stroke-width="1"/>
<line x1="34.60" y1="208.25" x2="37.20" y2="208.25" stroke="#4a4a4a" stroke-width="1"/>
<line x1="34.60" y1="186.90" x2="37.20" y2="186.90" stroke="#4a4a4a" stroke-width="1"/>
<line x1="34.60" y1="165.55" x2="37.20" y2="165.55" stroke="#4a4a4a" stroke-width="1"/>
<line x1="34.60" y1="144.20" x2="37.20" y2="144.20" stroke="#4a4a4a" stroke-width="1"/>
<line x1="56.28" y1="229.60" x2="56.28" y2="227.00" stroke="#4a4a4a" stroke-width="1"/>
<line x1="164.70" y1="229.60" x2="164.70" y2="227.00" stroke="#4a4a4a" stroke-width="1"/>
<line x1="273.12" y1="229.60" x2="273.12" y2="227.00" stroke="#4a4a4a" stroke-width="1"/>
<rect x="412.60" y="24.50" width="271.70" height="204.80" fill="none" stroke="#4a4a4a" stroke-width="1.2"/>
<line x1="412.60" y1="229.30" x2="415.20" y2="229.30" stroke="#4a4a4a" stroke-width="1"/>
<line x1="412.60" y1="195.17" x2="415.20" y2="195.17" stroke="#4a4a4a" stroke-width="1"/>
<line x1="412.60" y1="161.03" x2="415.20" y2="161.03" stroke="#4a4a4a" stroke-width="1"/>
<line x1="412.60" y1="126.90" x2="415.20" y2="126.90" stroke="#4a4a4a" stroke-width="1"/>
<line x1="412.60" y1="92.77" x2="415.20" y2="92.77" stroke="#4a4a4a" stroke-width="1"/>
<line x1="412.60" y1="24.50" x2="415.20" y2="24.50" stroke="#4a4a4a" stroke-width="1"/>
<line x1="412.60" y1="44.30" x2="415.20" y2="44.30" stroke="#4a4a4a" stroke-width="1"/>
<line x1="435.24" y1="229.30" x2="435.24" y2="226.70" stroke="#4a4a4a" stroke-width="1"/>
<line x1="548.45" y1="229.30" x2="548.45" y2="226.70" stroke="#4a4a4a" stroke-width="1"/>
<line x1="661.66" y1="229.30" x2="661.66" y2="226.70" stroke="#4a4a4a" stroke-width="1"/>
<rect x="34.50" y="306.80" width="260.00" height="86.50" fill="none" stroke="#4a4a4a" stroke-width="1.2"/>
<line x1="34.50" y1="380.94" x2="37.10" y2="380.94" stroke="#4a4a4a" stroke-width="1"/>
<line x1="34.50" y1="350.05" x2="37.10" y2="350.05" stroke="#4a4a4a" stroke-width="1"/>
<line x1="34.50" y1="319.16" x2="37.10" y2="319.16" stroke="#4a4a4a" stroke-width="1"/>
<line x1="71.64" y1="393.30" x2="71.64" y2="390.70" stroke="#4a4a4a" stroke-width="1"/>
<line x1="257.36" y1="393.30" x2="257.36" y2="390.70" stroke="#4a4a4a" stroke-width="1"/>
<rect x="34.50" y="426.80" width="260.00" height="85.70" fill="none" stroke="#4a4a4a" stroke-width="1.2"/>
<line x1="34.50" y1="507.46" x2="37.10" y2="507.46" stroke="#4a4a4a" stroke-width="1"/>
<line x1="34.50" y1="482.25" x2="37.10" y2="482.25" stroke="#4a4a4a" stroke-width="1"/>
<line x1="34.50" y1="457.05" x2="37.10" y2="457.05" stroke="#4a4a4a" stroke-width="1"/>
<line x1="34.50" y1="431.84" x2="37.10" y2="431.84" stroke="#4a4a4a" stroke-width="1"/>
<line x1="71.64" y1="512.50" x2="71.64" y2="509.90" stroke="#4a4a4a" stroke-width="1"/>
<line x1="257.36" y1="512.50" x2="257.36" y2="509.90" stroke="#4a4a4a" stroke-width="1"/>
<rect x="412.30" y="306.50" width="272.00" height="205.50" fill="none" stroke="#4a4a4a" stroke-width="1.2"/>
<line x1="412.30" y1="512.00" x2="414.90" y2="512.00" stroke="#4a4a4a" stroke-width="1"/>
<line x1="412.30" y1="443.50" x2="414.90" y2="443.50" stroke="#4a4a4a" stroke-width="1"/>
<line x1="412.30" y1="375.00" x2="414.90" y2="375.00" stroke="#4a4a4a" stroke-width="1"/>
<line x1="412.30" y1="306.50" x2="414.90" y2="306.50" stroke="#4a4a4a" stroke-width="1"/>
<line x1="451.16" y1="512.00" x2="451.16" y2="509.40" stroke="#4a4a4a" stroke-width="1"/>
<line x1="645.44" y1="512.00" x2="645.44" y2="509.40" stroke="#4a4a4a" stroke-width="1"/>
<rect x="34.50" y="589.20" width="260.00" height="86.10" fill="none" stroke="#4a4a4a" stroke-width="1.2"/>
<line x1="34.50" y1="663.00" x2="37.10" y2="663.00" stroke="#4a4a4a" stroke-width="1"/>
<line x1="34.50" y1="632.25" x2="37.10" y2="632.25" stroke="#4a4a4a" stroke-width="1"/>
<line x1="34.50" y1="601.50" x2="37.10" y2="601.50" stroke="#4a4a4a" stroke-width="1"/>
<line x1="71.64" y1="675.30" x2="71.64" y2="672.70" stroke="#4a4a4a" stroke-width="1"/>
<line x1="257.36" y1="675.30" x2="257.36" y2="672.70" stroke="#4a4a4a" stroke-width="1"/>
<rect x="34.50" y="708.90" width="260.00" height="85.60" fill="none" stroke="#4a4a4a" stroke-width="1.2"/>
<line x1="34.50" y1="794.50" x2="37.10" y2="794.50" stroke="#4a4a4a" stroke-width="1"/>
<line x1="34.50" y1="773.10" x2="37.10" y2="773.10" stroke="#4a4a4a" stroke-width="1"/>
<line x1="34.50" y1="751.70" x2="37.10" y2="751.70" stroke="#4a4a4a" stroke-width="1"/>
<line x1="34.50" y1="730.30" x2="37.10" y2="730.30" stroke="#4a4a4a" stroke-width="1"/>
<line x1="34.50" y1="708.90" x2="37.10" y2="708.90" stroke="#4a4a4a" stroke-width="1"/>
<line x1="71.64" y1="794.50" x2="71.64" y2="791.90" stroke="#4a4a4a" stroke-width="1"/>
<line x1="257.36" y1="794.50" x2="257.36" y2="791.90" stroke="#4a4a4a" stroke-width="1"/>
<rect x="412.30" y="588.00" width="272.00" height="206.20" fill="none" stroke="#4a4a4a" stroke-width="1.2"/>
<line x1="412.30" y1="794.20" x2="414.90" y2="794.20" stroke="#4a4a4a" stroke-width="1"/>
<line x1="412.30" y1="759.83" x2="414.90" y2="759.83" stroke="#4a4a4a" stroke-width="1"/>
<line x1="412.30" y1="725.47" x2="414.90" y2="725.47" stroke="#4a4a4a" stroke-width="1"/>
<line x1="412.30" y1="691.10" x2="414.90" y2="691.10" stroke="#4a4a4a" stroke-width="1"/>
<line x1="412.30" y1="656.73" x2="414.90" y2="656.73" stroke="#4a4a4a" stroke-width="1"/>
<line x1="412.30" y1="622.37" x2="414.90" y2="622.37" stroke="#4a4a4a" stroke-width="1"/>
<line x1="412.30" y1="588.00" x2="414.90" y2="588.00" stroke="#4a4a4a" stroke-width="1"/>
<line x1="451.16" y1="794.20" x2="451.16" y2="791.60" stroke="#4a4a4a" stroke-width="1"/>
<line x1="645.44" y1="794.20" x2="645.44" y2="791.60" stroke="#4a4a4a" stroke-width="1"/>
</svg></body></html>
